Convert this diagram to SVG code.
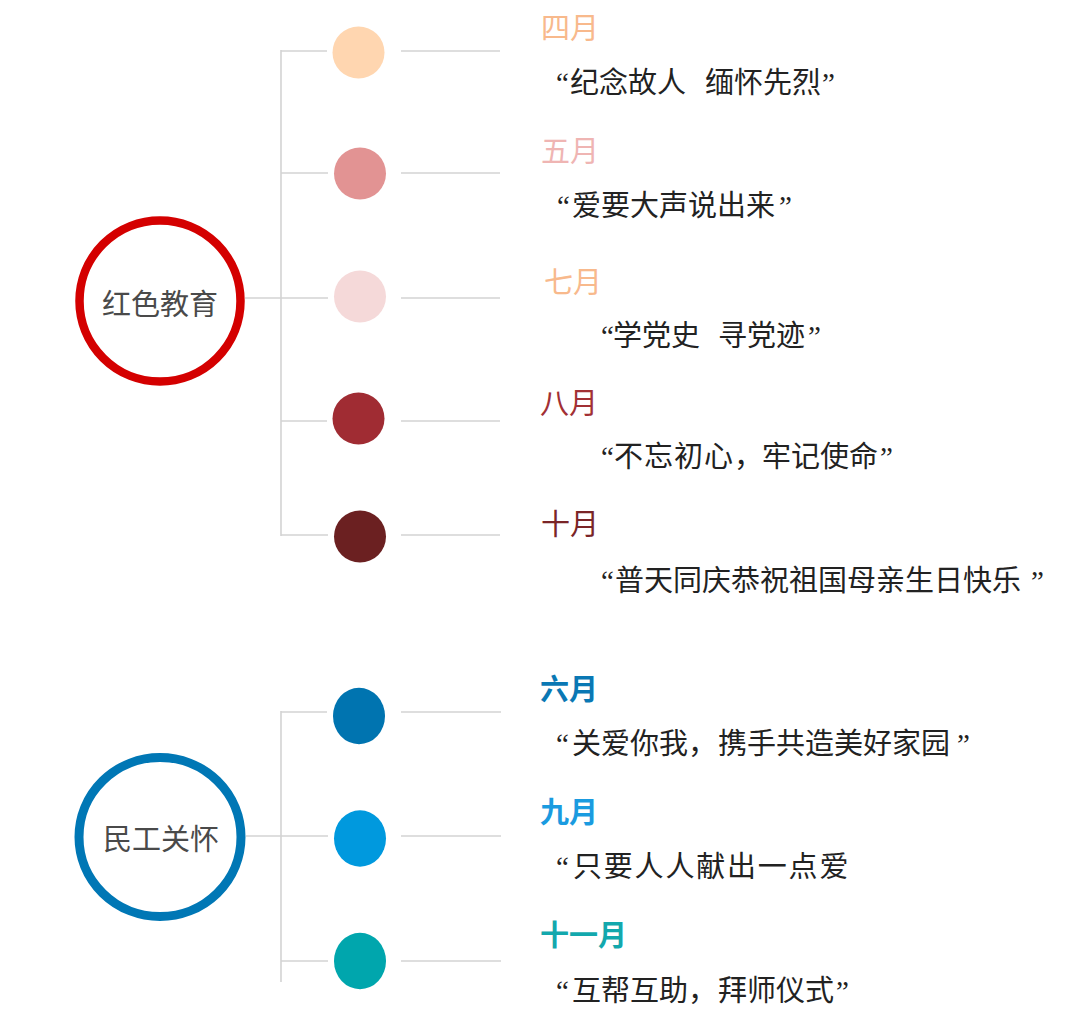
<svg xmlns="http://www.w3.org/2000/svg" width="1080" height="1036" viewBox="0 0 1080 1036">
<style>
.ln{stroke:#d3d3d3;stroke-width:1.6;fill:none}
.hub{font-family:"Noto Sans CJK SC","Noto Sans",sans-serif;font-size:29px;fill:#4a4a4a;text-anchor:middle}
.mo{font-family:"Noto Sans CJK SC","Noto Sans",sans-serif;font-size:29px}
.mb{font-weight:bold}
.q{font-family:"Noto Sans CJK SC","Noto Sans",sans-serif;font-size:29px;fill:#222}
.qm{font-family:"Liberation Serif",serif}
</style>
<rect width="1080" height="1036" fill="#fff"/>
<g id="connectors">
<line class="ln" x1="281" y1="50" x2="281" y2="536"/>
<line class="ln" x1="245" y1="298" x2="281" y2="298"/>
<line class="ln" x1="281" y1="51" x2="327" y2="51"/>
<line class="ln" x1="281" y1="173" x2="328" y2="173"/>
<line class="ln" x1="281" y1="298" x2="328" y2="298"/>
<line class="ln" x1="281" y1="421" x2="327" y2="421"/>
<line class="ln" x1="281" y1="535" x2="328" y2="535"/>
<line class="ln" x1="401" y1="51" x2="500" y2="51"/>
<line class="ln" x1="401" y1="173" x2="500" y2="173"/>
<line class="ln" x1="401" y1="298" x2="500" y2="298"/>
<line class="ln" x1="401" y1="421" x2="500" y2="421"/>
<line class="ln" x1="401" y1="535" x2="500" y2="535"/>
<line class="ln" x1="281" y1="711" x2="281" y2="982"/>
<line class="ln" x1="246" y1="836" x2="281" y2="836"/>
<line class="ln" x1="281" y1="712" x2="327" y2="712"/>
<line class="ln" x1="281" y1="836" x2="328" y2="836"/>
<line class="ln" x1="281" y1="961" x2="328" y2="961"/>
<line class="ln" x1="401" y1="712" x2="501" y2="712"/>
<line class="ln" x1="401" y1="836" x2="501" y2="836"/>
<line class="ln" x1="401" y1="961" x2="501" y2="961"/>
</g>
<g id="hub-red">
<circle cx="160" cy="301" r="80.5" fill="#fff" stroke="#d40000" stroke-width="8.5"/>
<text class="hub" x="160" y="315">红色教育</text>
</g>
<g id="hub-blue">
<ellipse cx="160" cy="837" rx="81" ry="79.5" fill="#fff" stroke="#0077b5" stroke-width="9"/>
<text class="hub" x="161" y="850">民工关怀</text>
</g>
<g id="apr">
<circle cx="358.5" cy="52.5" r="26" fill="#ffd6b0"/>
<text class="mo" x="541" y="39" fill="#f8b98c">四月</text>
<text class="q" y="93"><tspan class="qm" x="556">“</tspan><tspan x="570">纪念故人</tspan><tspan x="705">缅怀先烈</tspan><tspan class="qm" x="822">”</tspan></text>
</g>
<g id="may">
<circle cx="360" cy="173.5" r="26" fill="#e29393"/>
<text class="mo" x="541" y="162" fill="#efb5b3">五月</text>
<text class="q" y="216"><tspan class="qm" x="557">“</tspan><tspan x="572">爱要大声说出来</tspan><tspan class="qm" x="779">”</tspan></text>
</g>
<g id="jul">
<circle cx="360" cy="296.5" r="26" fill="#f5d9d9"/>
<text class="mo" x="544" y="293" fill="#f8b98c">七月</text>
<text class="q" y="346"><tspan class="qm" x="601">“</tspan><tspan x="613">学党史</tspan><tspan x="718">寻党迹</tspan><tspan class="qm" x="808">”</tspan></text>
</g>
<g id="aug">
<circle cx="358.5" cy="418.5" r="26" fill="#a02c33"/>
<text class="mo" x="540" y="414" fill="#a23034">八月</text>
<text class="q" y="467"><tspan class="qm" x="601">“</tspan><tspan x="614" letter-spacing="1">不忘初心，</tspan><tspan x="762">牢记使命</tspan><tspan class="qm" x="880">”</tspan></text>
</g>
<g id="oct">
<circle cx="360" cy="536.5" r="26" fill="#6b2021"/>
<text class="mo" x="541" y="535" fill="#7a2527">十月</text>
<text class="q" y="591"><tspan class="qm" x="601">“</tspan><tspan x="615">普天同庆恭祝祖国母亲生日快乐</tspan><tspan class="qm" x="1031">”</tspan></text>
</g>
<g id="jun">
<ellipse cx="359" cy="716" rx="26" ry="28.2" fill="#0074b0"/>
<text class="mo mb" x="540" y="700" fill="#0a78b4">六月</text>
<text class="q" y="754"><tspan class="qm" x="556">“</tspan><tspan x="572">关爱你我，</tspan><tspan x="718">携手共造美好家园</tspan><tspan class="qm" x="957">”</tspan></text>
</g>
<g id="sep">
<ellipse cx="360" cy="838.5" rx="26" ry="28.2" fill="#0099de"/>
<text class="mo mb" x="540" y="823" fill="#1a9be0">九月</text>
<text class="q" y="877"><tspan class="qm" x="556">“</tspan><tspan x="573" letter-spacing="1.8">只要人人献出一点爱</tspan></text>
</g>
<g id="nov">
<ellipse cx="360" cy="961" rx="26" ry="28.2" fill="#00a6ad"/>
<text class="mo mb" x="540" y="946" fill="#13a8ad">十一月</text>
<text class="q" y="1001"><tspan class="qm" x="556">“</tspan><tspan x="572">互帮互助，</tspan><tspan x="718">拜师仪式</tspan><tspan class="qm" x="836">”</tspan></text>
</g>
</svg>
